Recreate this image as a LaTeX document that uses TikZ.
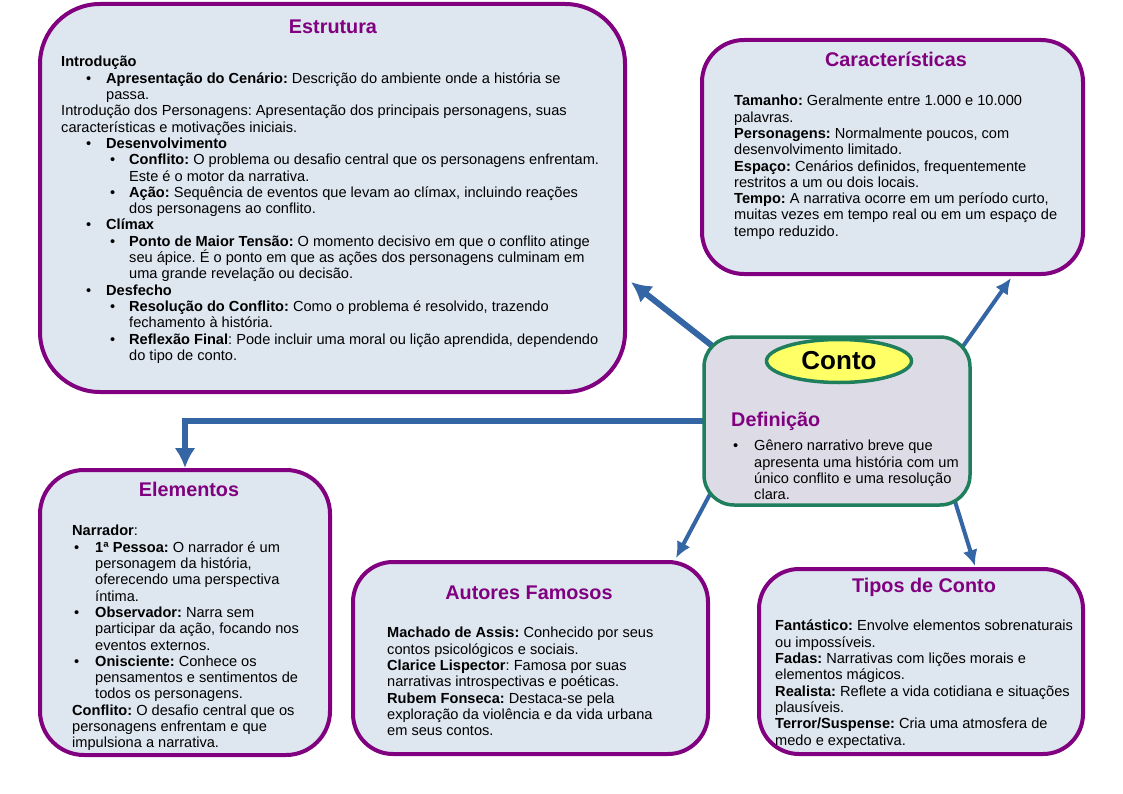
\documentclass[tikz,border=0pt]{standalone}
\usepackage{fontspec}
\setmainfont{Liberation Sans}
\usetikzlibrary{arrows.meta,calc,shapes.geometric}

\definecolor{panelpurple}{HTML}{800080}
\definecolor{panelfill}{HTML}{DEE6EF}
\definecolor{contofill}{HTML}{DDDCE6}
\definecolor{contogreen}{HTML}{1F7F5C}
\definecolor{linkblue}{HTML}{3465A4}
\definecolor{contoyellow}{HTML}{FFFF66}

\pgfdeclarelayer{paper}
\pgfdeclarelayer{links}
\pgfsetlayers{paper,links,main}

% bullets and hanging lines
\newcommand{\firstln}{\rule{0pt}{12pt}}
\newcommand{\lvlonebul}{\hspace*{25pt}\makebox[20pt][l]{\textbullet}}
\newcommand{\lvlonehang}{\hspace*{45pt}}
\newcommand{\lvltwobul}{\hspace*{49pt}\makebox[19pt][l]{\textbullet}}
\newcommand{\lvltwohang}{\hspace*{68pt}}
\newcommand{\elembul}{\hspace*{2pt}\makebox[21pt][l]{\textbullet}}
\newcommand{\elemhang}{\hspace*{23pt}}

\begin{document}
\frenchspacing
\begin{tikzpicture}[x=1pt, y=-1pt, >=latex]
    \tikzset{
        panel/.style={draw=panelpurple, line width=4pt, fill=panelfill, inner sep=0pt, outer sep=0pt, rounded corners=#1},
        panel/.default=40pt,
        contobox/.style={draw=contogreen, line width=3.5pt, fill=contofill, rounded corners=30pt, inner sep=0pt, outer sep=0pt, minimum width=266pt, minimum height=168pt},
        contolabel/.style={ellipse, draw=contogreen, line width=3.5pt, fill=contoyellow, minimum width=145pt, minimum height=43pt, inner sep=0pt, font=\bfseries\fontsize{26}{30}\selectfont},
        heading/.style={text=panelpurple, font=\bfseries\fontsize{19.8}{23}\selectfont, inner sep=0pt, anchor=base},
        bodytext/.style={align=left, inner sep=0pt, anchor=north west, font=\fontsize{14.6}{16.3}\selectfont},
        link/.style={draw=linkblue, line width=4pt, -{Latex[length=16pt,width=15pt]}},
        biglink/.style={draw=linkblue, line width=6pt, -{Latex[length=20pt,width=21pt]}}
    }

    \begin{pgfonlayer}{paper}
        \fill[white] (0,0) rectangle (1123,794);
    \end{pgfonlayer}
    \useasboundingbox (0,0) rectangle (1123,794);

    % panels
    \node[panel=60pt, minimum width=585pt, minimum height=388pt] (estrutura) at (332.5,198) {};
    \node[panel=42pt, minimum width=381pt, minimum height=234pt] (caract) at (892.5,157) {};
    \node[panel=44pt, minimum width=290pt, minimum height=285pt] (elementos) at (185,612.5) {};
    \node[panel=40pt, minimum width=355pt, minimum height=192pt] (autores) at (530.5,658) {};
    \node[panel=40pt, minimum width=324pt, minimum height=185pt] (tipos) at (921,661.5) {};
    \node[contobox] (conto) at (837,421) {};
    \node[contolabel] (conto-label) at (839,361) {Conto};

    % Estrutura
    \node[heading] (estrutura-title) at (333,34) {Estrutura};
    \node[bodytext] (estrutura-body) at (61,54.7) {\firstln\textbf{Introdução}\\
        \lvlonebul\textbf{Apresentação do Cenário:} Descrição do ambiente onde a história se\\
        \lvlonehang passa.\\
        Introdução dos Personagens: Apresentação dos principais personagens, suas\\
        características e motivações iniciais.\\
        \lvlonebul\textbf{Desenvolvimento}\\
        \lvltwobul\textbf{Conflito:} O problema ou desafio central que os personagens enfrentam.\\
        \lvltwohang Este é o motor da narrativa.\\
        \lvltwobul\textbf{Ação:} Sequência de eventos que levam ao clímax, incluindo reações\\
        \lvltwohang dos personagens ao conflito.\\
        \lvlonebul\textbf{Clímax}\\
        \lvltwobul\textbf{Ponto de Maior Tensão:} O momento decisivo em que o conflito atinge\\
        \lvltwohang seu ápice. É o ponto em que as ações dos personagens culminam em\\
        \lvltwohang uma grande revelação ou decisão.\\
        \lvlonebul\textbf{Desfecho}\\
        \lvltwobul\textbf{Resolução do Conflito:} Como o problema é resolvido, trazendo\\
        \lvltwohang fechamento à história.\\
        \lvltwobul\textbf{Reflexão Final}: Pode incluir uma moral ou lição aprendida, dependendo\\
        \lvltwohang do tipo de conto.};

    % Caracteristicas
    \node[heading] (caract-title) at (896,67) {Características};
    \node[bodytext] (caract-body) at (734,93.7) {\firstln\textbf{Tamanho:} Geralmente entre 1.000 e 10.000\\
        palavras.\\
        \textbf{Personagens:} Normalmente poucos, com\\
        desenvolvimento limitado.\\
        \textbf{Espaço:} Cenários definidos, frequentemente\\
        restritos a um ou dois locais.\\
        \textbf{Tempo:} A narrativa ocorre em um período curto,\\
        muitas vezes em tempo real ou em um espaço de\\
        tempo reduzido.};

    % Definicao
    \node[heading, anchor=base west] (def-title) at (731,426) {Definição};
    \node[bodytext] (def-body) at (731,438.7) {\firstln\elembul Gênero narrativo breve que\\
        \elemhang apresenta uma história com um\\
        \elemhang único conflito e uma resolução\\
        \elemhang clara.};

    % Elementos
    \node[heading] (elementos-title) at (189,496) {Elementos};
    \node[bodytext] (elementos-body) at (72,523.7) {\firstln\textbf{Narrador}:\\
        \elembul\textbf{1ª Pessoa:} O narrador é um\\
        \elemhang personagem da história,\\
        \elemhang oferecendo uma perspectiva\\
        \elemhang íntima.\\
        \elembul\textbf{Observador:} Narra sem\\
        \elemhang participar da ação, focando nos\\
        \elemhang eventos externos.\\
        \elembul\textbf{Onisciente:} Conhece os\\
        \elemhang pensamentos e sentimentos de\\
        \elemhang todos os personagens.\\
        \textbf{Conflito:} O desafio central que os\\
        personagens enfrentam e que\\
        impulsiona a narrativa.};

    % Autores
    \node[heading] (autores-title) at (529,599) {Autores Famosos};
    \node[bodytext] (autores-body) at (387,625.7) {\firstln\textbf{Machado de Assis:} Conhecido por seus\\
        contos psicológicos e sociais.\\
        \textbf{Clarice Lispector}: Famosa por suas\\
        narrativas introspectivas e poéticas.\\
        \textbf{Rubem Fonseca:} Destaca-se pela\\
        exploração da violência e da vida urbana\\
        em seus contos.};

    % Tipos
    \node[heading] (tipos-title) at (924,592) {Tipos de Conto};
    \node[bodytext] (tipos-body) at (775,618.7) {\firstln\textbf{Fantástico:} Envolve elementos sobrenaturais\\
        ou impossíveis.\\
        \textbf{Fadas:} Narrativas com lições morais e\\
        elementos mágicos.\\
        \textbf{Realista:} Reflete a vida cotidiana e situações\\
        plausíveis.\\
        \textbf{Terror/Suspense:} Cria uma atmosfera de\\
        medo e expectativa.};

    % links
    \coordinate (estrutura-tip) at (631,282);
    \coordinate (caract-tip) at (1011,278);
    \coordinate (autores-tip) at (676,558);
    \coordinate (tipos-tip) at (975,566);
    \begin{pgfonlayer}{links}
        \draw[biglink] ($(conto.north west)+(16,15)$) -- (estrutura-tip);
        \draw[link] ($(conto.north east)+(-10,13.5)$) -- (caract-tip);
        \draw[biglink] (conto.west) -| ($(elementos.north)+(0,-2)$);
        \draw[link] ($(conto.south west)+(11,-20.3)$) -- (autores-tip);
        \draw[link] ($(conto.south east)+(-17,-10)$) -- (tipos-tip);
    \end{pgfonlayer}

\end{tikzpicture}
\end{document}
